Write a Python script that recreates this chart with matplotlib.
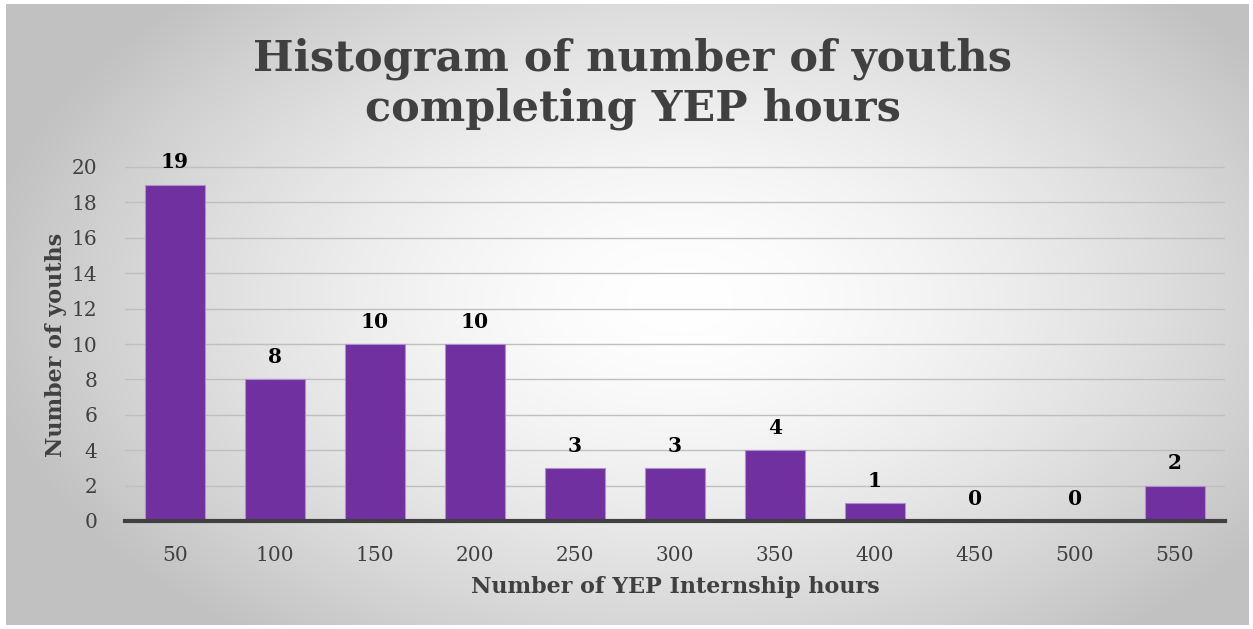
import numpy as np
import matplotlib
matplotlib.use("Agg")
import matplotlib.pyplot as plt

categories = ["50", "100", "150", "200", "250", "300", "350", "400", "450", "500", "550"]
counts = [19, 8, 10, 10, 3, 3, 4, 1, 0, 0, 2]
yticks = [0, 2, 4, 6, 8, 10, 12, 14, 16, 18, 20]

W, H = 1253, 629
fig = plt.figure(figsize=(W / 100, H / 100), dpi=100)

# radial gradient background
bg = fig.add_axes([0, 0, 1, 1], zorder=0)
yy, xx = np.mgrid[0:H, 0:W]
cx, cy = 680, 300
r = np.sqrt(((xx - cx) / 700.0) ** 2 + ((yy - cy) / 420.0) ** 2)
r = np.clip(r, 0, 1)
val = 1.0 - 0.24 * r ** 1.6
img = np.dstack([val, val, val])
# outer white frame
img[:4, :, :] = 1.0
img[-4:, :, :] = 1.0
img[:, :6, :] = 1.0
img[:, -4:, :] = 1.0
bg.imshow(img, aspect="auto", extent=[0, W, H, 0])
bg.axis("off")

serif = ["DejaVu Serif"]
ax = fig.add_axes([125 / W, 1 - 521 / H, 1100 / W, (521 - 150) / H], zorder=1)
ax.patch.set_alpha(0)
x = np.arange(len(categories))
ax.bar(x, counts, width=0.6, color="#7030A0", edgecolor="#B08FD0", linewidth=0.8, zorder=3)
ax.set_xlim(-0.5, len(categories) - 0.5)
ax.set_ylim(0, 20 * (521 - 150) / (521 - 167))
ax.set_yticks(yticks)
ax.set_yticklabels([str(t) for t in yticks], family=serif, fontsize=14.5, color="#404040")
ax.set_xticks(x)
ax.set_xticklabels(categories, family=serif, fontsize=14.5, color="#404040")
ax.tick_params(axis="x", length=0, pad=18)
ax.tick_params(axis="y", length=0, pad=20)
for t in yticks[1:]:
    ax.axhline(t, color="#bfbfbf", linewidth=1.0, zorder=1)
for s in ["top", "right", "left"]:
    ax.spines[s].set_visible(False)
ax.spines["bottom"].set_color("#404040")
ax.spines["bottom"].set_linewidth(3)
ax.spines["bottom"].set_zorder(4)

for xi, c in zip(x, counts):
    ax.text(xi, c + 0.7, str(c), ha="center", va="bottom", family=serif,
            fontsize=14.5, fontweight="bold", color="black")

ax.set_xlabel("Number of YEP Internship hours", family=serif, fontsize=16,
              fontweight="bold", color="#404040", labelpad=8)
ax.set_ylabel("Number of youths", family=serif, fontsize=16,
              fontweight="bold", color="#404040")
ax.yaxis.set_label_coords(-0.053, 0.474)

fig.text(0.505, 1 - 84 / H, "Histogram of number of youths\ncompleting YEP hours",
         ha="center", va="center", family=serif, fontsize=31, fontweight="bold",
         color="#404040", linespacing=1.22)

fig.savefig("out.png", dpi=100)
